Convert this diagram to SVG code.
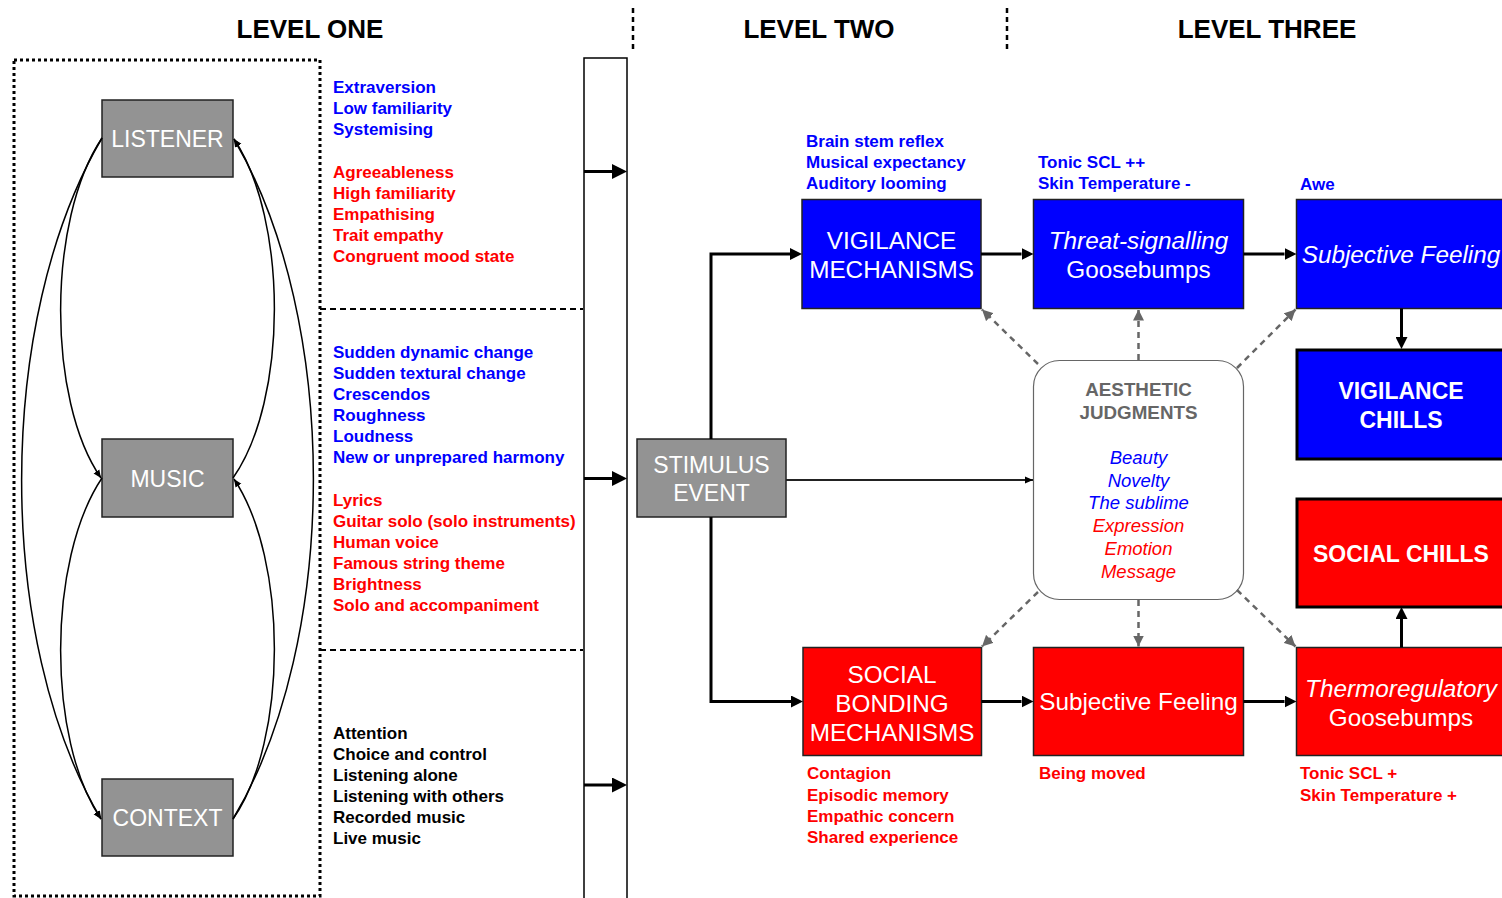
<svg xmlns="http://www.w3.org/2000/svg" width="1502" height="898" viewBox="0 0 1502 898">
<style>
text{font-family:"Liberation Sans",Arial,Helvetica,sans-serif}
.hdr{font-size:26px;font-weight:bold;fill:#000;text-anchor:middle}
.lst{font-size:17px;font-weight:bold}
.b{fill:#0000ff}.r{fill:#ff0000}.k{fill:#000}
.bt{font-size:23px;fill:#fff;text-anchor:middle}
.bt2{font-size:24.3px;fill:#fff;text-anchor:middle}
.btb{font-size:23px;fill:#fff;text-anchor:middle;font-weight:bold}
.it{font-style:italic}
.gbox{fill:#939393;stroke:#222;stroke-width:1.5}
.bbox{fill:#0000ff;stroke:#222;stroke-width:1.5}
.rbox{fill:#ff0000;stroke:#222;stroke-width:1.5}
.thick{fill:none;stroke:#000;stroke-width:3}
.thin{fill:none;stroke:#000;stroke-width:1.5}
.dash{fill:none;stroke:#666;stroke-width:2.5;stroke-dasharray:6,5}
.aj{font-size:18.8px;font-weight:bold;fill:#666;text-anchor:middle}
.ajl{font-size:18.5px;font-style:italic;text-anchor:middle}
</style>
<defs>
<marker id="ahL" markerWidth="15" markerHeight="15" refX="0" refY="7.5" orient="auto" markerUnits="userSpaceOnUse"><path d="M0,0 L15,7.5 L0,15 z" fill="#000"/></marker>
<marker id="ahM" markerWidth="12" markerHeight="12" refX="0" refY="6" orient="auto" markerUnits="userSpaceOnUse"><path d="M0,0 L12,6 L0,12 z" fill="#000"/></marker>
<marker id="ahS" markerWidth="8" markerHeight="8" refX="8" refY="4" orient="auto" markerUnits="userSpaceOnUse"><path d="M0,0.5 L8,4 L0,7.5 z" fill="#000"/></marker>
<marker id="ahG" markerWidth="11" markerHeight="11" refX="11" refY="5.5" orient="auto" markerUnits="userSpaceOnUse"><path d="M0,0 L11,5.5 L0,11 z" fill="#666"/></marker>
</defs>

<g id="headers">
<text class="hdr" x="310" y="38">LEVEL ONE</text>
<text class="hdr" x="819" y="38">LEVEL TWO</text>
<text class="hdr" x="1267" y="38">LEVEL THREE</text>
<line x1="633" y1="8" x2="633" y2="52" stroke="#000" stroke-width="2.5" stroke-dasharray="5,4"/>
<line x1="1007" y1="8" x2="1007" y2="52" stroke="#000" stroke-width="2.5" stroke-dasharray="5,4"/>
</g>

<g id="level-one-frame">
<rect x="14" y="60" width="306" height="836" fill="none" stroke="#000" stroke-width="3" stroke-dasharray="3,3"/>
<line x1="320" y1="309" x2="583" y2="309" stroke="#000" stroke-width="2" stroke-dasharray="6,4"/>
<line x1="320" y1="650" x2="583" y2="650" stroke="#000" stroke-width="2" stroke-dasharray="6,4"/>
<rect x="584" y="58" width="43" height="850" fill="#fff" stroke="#000" stroke-width="1.5"/>
</g>

<g id="listener"><rect class="gbox" x="102" y="100" width="131" height="77"/><text class="bt" x="167.5" y="146.5">LISTENER</text></g>
<g id="music"><rect class="gbox" x="102" y="439" width="131" height="78"/><text class="bt" x="167.5" y="487">MUSIC</text></g>
<g id="context"><rect class="gbox" x="102" y="779" width="131" height="77"/><text class="bt" x="167.5" y="826">CONTEXT</text></g>

<g id="listener-factors" class="lst">
<text class="b" x="333" y="93">Extraversion</text>
<text class="b" x="333" y="114">Low familiarity</text>
<text class="b" x="333" y="135">Systemising</text>
<text class="r" x="333" y="177.5">Agreeableness</text>
<text class="r" x="333" y="198.5">High familiarity</text>
<text class="r" x="333" y="219.5">Empathising</text>
<text class="r" x="333" y="240.5">Trait empathy</text>
<text class="r" x="333" y="261.5">Congruent mood state</text>
</g>
<g id="music-factors" class="lst">
<text class="b" x="333" y="357.5">Sudden dynamic change</text>
<text class="b" x="333" y="378.5">Sudden textural change</text>
<text class="b" x="333" y="399.5">Crescendos</text>
<text class="b" x="333" y="420.5">Roughness</text>
<text class="b" x="333" y="441.5">Loudness</text>
<text class="b" x="333" y="462.5">New or unprepared harmony</text>
<text class="r" x="333" y="505.5">Lyrics</text>
<text class="r" x="333" y="526.5">Guitar solo (solo instruments)</text>
<text class="r" x="333" y="547.5">Human voice</text>
<text class="r" x="333" y="568.5">Famous string theme</text>
<text class="r" x="333" y="589.5">Brightness</text>
<text class="r" x="333" y="610.5">Solo and accompaniment</text>
</g>
<g id="context-factors" class="lst">
<text class="k" x="333" y="739">Attention</text>
<text class="k" x="333" y="760">Choice and control</text>
<text class="k" x="333" y="781">Listening alone</text>
<text class="k" x="333" y="802">Listening with others</text>
<text class="k" x="333" y="823">Recorded music</text>
<text class="k" x="333" y="844">Live music</text>
</g>

<g id="stimulus-event"><rect class="gbox" x="637" y="439" width="149" height="78"/><text class="bt" x="711.5" y="472.5">STIMULUS</text><text class="bt" x="711.5" y="501">EVENT</text></g>

<g id="vigilance-mechanisms"><rect class="bbox" x="802" y="199.5" width="179" height="109"/><text class="bt2" x="891.5" y="249">VIGILANCE</text><text class="bt2" x="891.5" y="278">MECHANISMS</text></g>
<g id="vigilance-mech-labels" class="lst b">
<text x="806" y="147">Brain stem reflex</text>
<text x="806" y="168">Musical expectancy</text>
<text x="806" y="189">Auditory looming</text>
</g>

<g id="threat-goosebumps"><rect class="bbox" x="1033.5" y="199.5" width="210" height="109"/><text class="bt2 it" x="1138.5" y="249">Threat-signalling</text><text class="bt2" x="1138.5" y="277.5">Goosebumps</text></g>
<g id="threat-labels" class="lst b">
<text x="1038" y="168">Tonic SCL ++</text>
<text x="1038" y="189">Skin Temperature -</text>
</g>

<g id="subjective-feeling-blue"><rect class="bbox" x="1296.5" y="199.5" width="212" height="109"/><text class="bt2 it" x="1401" y="262.5">Subjective Feeling</text></g>
<g id="awe-label"><text class="lst b" x="1300" y="190">Awe</text></g>

<g id="vigilance-chills"><rect x="1297" y="350" width="212" height="109" fill="#0000ff" stroke="#000" stroke-width="3"/><text class="btb" x="1401" y="399">VIGILANCE</text><text class="btb" x="1401" y="427.5">CHILLS</text></g>
<g id="social-chills"><rect x="1297" y="499" width="212" height="108" fill="#ff0000" stroke="#000" stroke-width="3"/><text class="btb" x="1401" y="562">SOCIAL CHILLS</text></g>

<g id="aesthetic-judgments">
<rect x="1033.5" y="360.5" width="210" height="239" rx="26" ry="26" fill="#fff" stroke="#666" stroke-width="1.2"/>
<text class="aj" x="1138.5" y="396">AESTHETIC</text>
<text class="aj" x="1138.5" y="419">JUDGMENTS</text>
<text class="ajl b" x="1138.5" y="463.5">Beauty</text>
<text class="ajl b" x="1138.5" y="486.5">Novelty</text>
<text class="ajl b" x="1138.5" y="509">The sublime</text>
<text class="ajl r" x="1138.5" y="532">Expression</text>
<text class="ajl r" x="1138.5" y="555">Emotion</text>
<text class="ajl r" x="1138.5" y="577.5">Message</text>
</g>

<g id="social-bonding-mechanisms"><rect class="rbox" x="803" y="647.5" width="178.5" height="108"/><text class="bt2" x="892" y="682.5">SOCIAL</text><text class="bt2" x="892" y="711.5">BONDING</text><text class="bt2" x="892" y="740.5">MECHANISMS</text></g>
<g id="social-bonding-labels" class="lst r">
<text x="807" y="779">Contagion</text>
<text x="807" y="800.5">Episodic memory</text>
<text x="807" y="821.5">Empathic concern</text>
<text x="807" y="842.5">Shared experience</text>
</g>

<g id="subjective-feeling-red"><rect class="rbox" x="1033.5" y="647.5" width="210" height="108"/><text class="bt2" x="1138.5" y="710">Subjective Feeling</text></g>
<g id="being-moved-label"><text class="lst r" x="1039" y="779">Being moved</text></g>

<g id="thermo-goosebumps"><rect class="rbox" x="1296.5" y="647.5" width="212" height="108"/><text class="bt2 it" x="1401" y="697">Thermoregulatory</text><text class="bt2" x="1401" y="726">Goosebumps</text></g>
<g id="thermo-labels" class="lst r">
<text x="1300" y="779">Tonic SCL +</text>
<text x="1300" y="800.5">Skin Temperature +</text>
</g>

<g id="connectors">
<path class="thin" d="M102,138 C47,220 47,400 101,478" marker-end="url(#ahS)"/>
<path class="thin" d="M102,138 C-5,320 -5,640 101,819" marker-end="url(#ahS)"/>
<path class="thin" d="M102,478 C47,560 47,740 101,819" marker-end="url(#ahS)"/>
<path class="thin" d="M233,819 C340,640 340,320 234,139" marker-end="url(#ahS)"/>
<path class="thin" d="M233,478 C288,400 288,220 234,139" marker-end="url(#ahS)"/>
<path class="thin" d="M233,819 C288,740 288,560 234,479" marker-end="url(#ahS)"/>
<path class="thick" d="M584,171.5 H612" marker-end="url(#ahL)"/>
<path class="thick" d="M584,478.5 H612" marker-end="url(#ahL)"/>
<path class="thick" d="M584,785 H612" marker-end="url(#ahL)"/>
<path class="thick" d="M711,439 V254 H790" marker-end="url(#ahM)"/>
<path class="thick" d="M711,517 V701.5 H791" marker-end="url(#ahM)"/>
<path fill="none" stroke="#222" stroke-width="2" d="M786,480 H1033" marker-end="url(#ahS)"/>
<path class="thick" d="M981,254 H1021.5" marker-end="url(#ahM)"/>
<path class="thick" d="M1243.5,254 H1284.5" marker-end="url(#ahM)"/>
<path class="thick" d="M1401.5,308.5 V337" marker-end="url(#ahM)"/>
<path class="thick" d="M981.5,701.5 H1021.5" marker-end="url(#ahM)"/>
<path class="thick" d="M1243.5,701.5 H1284.5" marker-end="url(#ahM)"/>
<path class="thick" d="M1401.5,647.5 V619" marker-end="url(#ahM)"/>
<path class="dash" d="M1038,364 L982,309.5" marker-end="url(#ahG)"/>
<path class="dash" d="M1138.5,360 V309.5" marker-end="url(#ahG)"/>
<path class="dash" d="M1237,368 L1295.5,309.5" marker-end="url(#ahG)"/>
<path class="dash" d="M1038,592 L982,646.5" marker-end="url(#ahG)"/>
<path class="dash" d="M1138.5,600 V646.5" marker-end="url(#ahG)"/>
<path class="dash" d="M1237,590 L1295.5,646.5" marker-end="url(#ahG)"/>
</g>
</svg>
